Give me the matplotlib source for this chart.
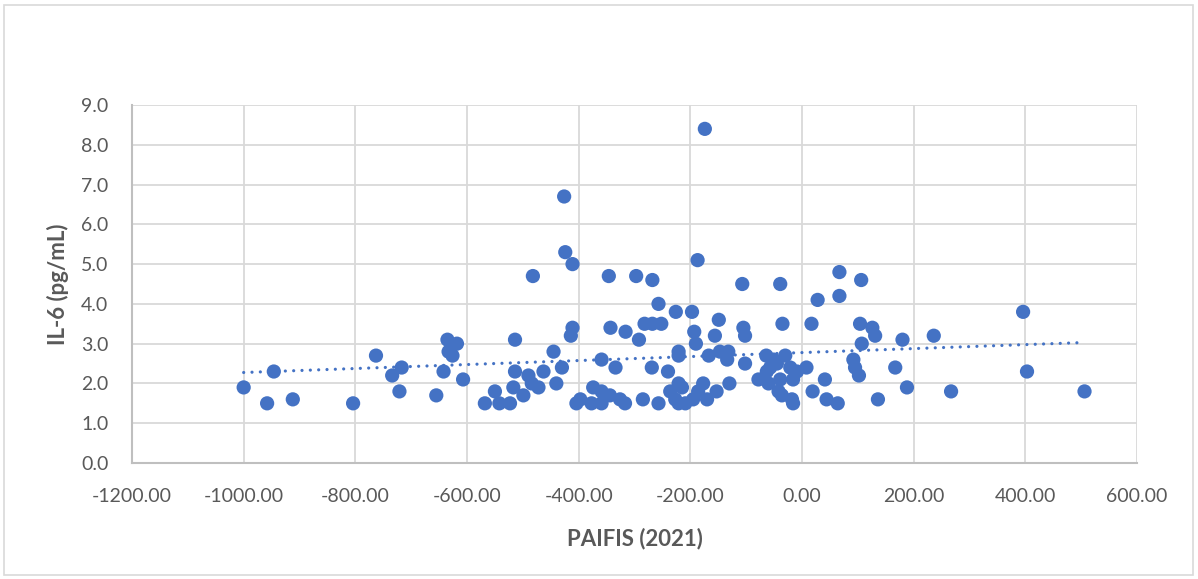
import numpy as np
import matplotlib
matplotlib.use('Agg')
from matplotlib import pyplot as plt
from matplotlib.patches import Rectangle

plt.rcParams['font.family'] = ['Lato', 'DejaVu Sans']
plt.rcParams['axes.unicode_minus'] = False

# PAIFIS (2021) vs IL-6
paifis = [-1000, -958, -946, -912, -804, -763, -734, -717, -721, -655,
          -642, -635, -618, -633, -626, -607, -568, -550, -542, -523,
          -514, -514, -517, -499, -490, -484, -472, -463, -482, -445,
          -440, -430, -426, -424, -411, -411, -414, -404, -397, -374,
          -377, -359, -359, -344, -326, -317, -359, -334, -346, -343,
          -316, -292, -297, -285, -282, -268, -252, -268, -269, -257,
          -257, -240, -236, -226, -221, -221, -221, -215, -227, -221,
          -209, -195, -197, -193, -190, -187, -186, -177, -174, -167,
          -170, -156, -149, -153, -147, -132, -134, -130, -107, -105,
          -102, -102, -78, -64, -51, -45, -57, -63, -60, -39,
          -39, -42, -36, -35, -30, -21, -9, -16, -18, -16,
          8, 17, 19, 28, 41, 44, 64, 67, 67, 92,
          95, 102, 104, 106, 107, 126, 131, 136, 167, 180,
          188, 236, 267, 396, 403, 506]
il6 = [1.9, 1.5, 2.3, 1.6, 1.5, 2.7, 2.2, 2.4, 1.8, 1.7,
       2.3, 3.1, 3.0, 2.8, 2.7, 2.1, 1.5, 1.8, 1.5, 1.5,
       3.1, 2.3, 1.9, 1.7, 2.2, 2.0, 1.9, 2.3, 4.7, 2.8,
       2.0, 2.4, 6.7, 5.3, 5.0, 3.4, 3.2, 1.5, 1.6, 1.9,
       1.5, 1.8, 1.5, 1.7, 1.6, 1.5, 2.6, 2.4, 4.7, 3.4,
       3.3, 3.1, 4.7, 1.6, 3.5, 3.5, 3.5, 4.6, 2.4, 4.0,
       1.5, 2.3, 1.8, 3.8, 2.8, 2.7, 2.0, 1.9, 1.6, 1.5,
       1.5, 1.6, 3.8, 3.3, 3.0, 5.1, 1.8, 2.0, 8.4, 2.7,
       1.6, 3.2, 3.6, 1.8, 2.8, 2.8, 2.6, 2.0, 4.5, 3.4,
       3.2, 2.5, 2.1, 2.7, 2.6, 2.5, 2.4, 2.3, 2.0, 4.5,
       2.1, 1.8, 1.7, 3.5, 2.7, 2.4, 2.3, 2.1, 1.6, 1.5,
       2.4, 3.5, 1.8, 4.1, 2.1, 1.6, 1.5, 4.8, 4.2, 2.6,
       2.4, 2.2, 3.5, 4.6, 3.0, 3.4, 3.2, 1.6, 2.4, 3.1,
       1.9, 3.2, 1.8, 3.8, 2.3, 1.8]

x_ticks = np.arange(-1200, 601, 200)
y_ticks = np.arange(0, 9.1, 1.0)

blue = '#4472C4'
grey_txt = '#595959'
grid_c = '#D9D9D9'

W, H = 1198, 579
fig = plt.figure(figsize=(W / 100, H / 100), dpi=100)
ax = fig.add_axes([132 / W, 1 - 463 / H, (1137 - 132) / W, (463 - 105) / H])

x = np.array(paifis, dtype=float)
y = np.array(il6, dtype=float)

ax.scatter(x, y, s=105, color=blue, edgecolors='none', zorder=3)

# linear trendline (dotted, like Excel)
k, b = np.polyfit(x, y, 1)
xt = np.linspace(x.min(), x.max(), 50)
ax.plot(xt, k * xt + b, color=blue, lw=2.3, linestyle=(0, (0.01, 2.6)),
        dash_capstyle='round', zorder=2)

ax.set_xlim(-1200, 600)
ax.set_ylim(0, 9)
ax.set_xticks(x_ticks)
ax.set_yticks(y_ticks)
ax.set_xticklabels(['%.2f' % v for v in x_ticks])
ax.set_yticklabels(['%.1f' % v for v in y_ticks])
ax.tick_params(length=0, labelsize=14, colors=grey_txt)
ax.tick_params(axis='y', pad=17)
ax.tick_params(axis='x', pad=18)

ax.grid(True, color=grid_c, lw=1.3, zorder=0)
ax.set_axisbelow(True)
for s in ['top', 'right']:
  ax.spines[s].set_visible(False)
for s in ['left', 'bottom']:
  ax.spines[s].set_color('#BFBFBF')
  ax.spines[s].set_linewidth(1.5)

ax.set_xlabel('PAIFIS (2021)', fontsize=16, fontweight='bold', color=grey_txt, labelpad=16)
ax.set_ylabel('IL-6 (pg/mL)', fontsize=16, fontweight='bold', color=grey_txt, labelpad=9)

fig.patches.append(Rectangle((4 / W, 4 / H), 1 - 9 / W, 1 - 9 / H, transform=fig.transFigure,
                             fill=False, edgecolor=grid_c, lw=1.2))

fig.savefig('out.png', dpi=100)
